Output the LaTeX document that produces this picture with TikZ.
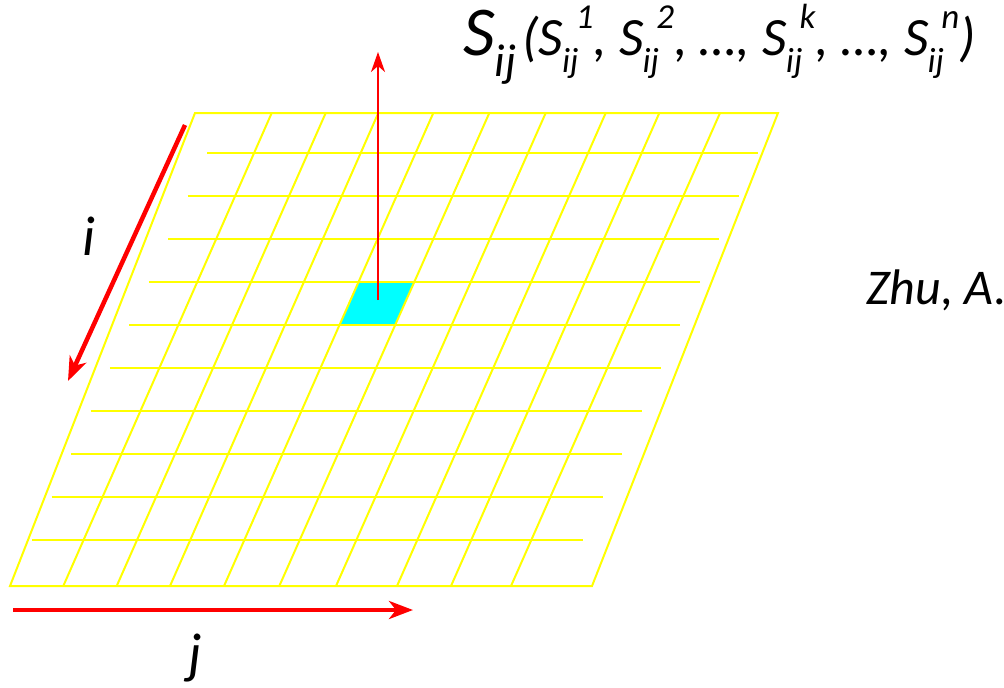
\documentclass[tikz,border=0pt]{standalone}
\usepackage{fontspec}
\setmainfont{Carlito}
\usetikzlibrary{arrows.meta,calc}
\definecolor{gridyellow}{RGB}{255,255,0}
\definecolor{cellcyan}{RGB}{0,255,255}
\definecolor{arrowred}{RGB}{255,0,0}
\newcommand{\mySij}[1]{S\kern-0.02em\raisebox{-0.32em}{\fontsize{35}{35}\selectfont ij}\kern-0.05em\raisebox{0.5em}{\fontsize{35}{35}\selectfont #1}}
\begin{document}
\begin{tikzpicture}[x=1pt,y=-1pt,
  gridline/.style={draw=gridyellow, line width=2pt},
  thickred/.style={draw=arrowred, line width=4.5pt, -{Stealth[length=24pt,width=18pt,inset=7pt]}},
  thinred/.style={draw=arrowred, line width=2pt, -{Stealth[length=20pt,width=14pt,inset=6pt]}},
  lbl/.style={inner sep=0pt, font=\itshape}]
\useasboundingbox (0,0) rectangle (1004,688);
\clip (0,0) rectangle (1004,688);
% corners
\coordinate (TL) at (195,113);
\coordinate (TR) at (778,113);
\coordinate (BL) at (10,586);
\coordinate (BR) at (592,586);
% column line ends
\foreach \n/\t/\b in {1/271.7/63.3, 2/325.7/116.7, 3/378.3/170, 4/433.3/224, 5/489.3/279.3, 6/545.7/336, 7/605.7/397, 8/659.3/451, 9/720/511}{
  \coordinate (t\n) at (\t,113);
  \coordinate (b\n) at (\b,586);
}
% selected cell
\fill[cellcyan] ($(t4)!0.3573!(b4)$) -- ($(t5)!0.3573!(b5)$) -- ($(t5)!0.4461!(b5)$) -- ($(t4)!0.4461!(b4)$) -- cycle;
% grid
\draw[gridline] (TL) -- (TR) -- (BR) -- (BL) -- cycle;
\foreach \n in {1,...,9}{ \draw[gridline] (t\n) -- (b\n); }
\foreach \k in {1,...,10}{
  \pgfmathsetmacro{\yy}{109.7+43*\k}
  \pgfmathsetmacro{\xs}{207-19.41*(\k-1)}
  \coordinate (hs\k) at (\xs,\yy);
  \coordinate (he\k) at (\xs+551,\yy);
  \draw[gridline] (hs\k) -- (he\k);
}
% arrows
\coordinate (cellc) at (378,300);
\coordinate (uptip) at (378,52);
\draw[thinred] (cellc) -- (uptip);
\coordinate (istart) at (185,125);
\coordinate (iend) at (68,381);
\draw[thickred] (istart) -- (iend);
\coordinate (jstart) at (13,610);
\coordinate (jend) at (413,610);
\draw[thickred] (jstart) -- (jend);
% labels
\node[lbl, anchor=base, font=\fontsize{56}{56}\selectfont\itshape] (ilabel) at (89,255) {i};
\node[lbl, anchor=base, font=\fontsize{56}{56}\selectfont\itshape] (jlabel) at (195,672) {j};
\node[lbl, anchor=base west, font=\fontsize{50}{50}\selectfont\itshape] (cite) at (866,304) {Zhu, A.X.};
\node[lbl, anchor=base west] (title) at (463,55) {{\fontsize{70}{70}\selectfont S\raisebox{-0.3em}{\fontsize{46}{46}\selectfont ij}}\kern6pt{\fontsize{54}{54}\selectfont (\mySij{1}, \mySij{2}, \ldots, \mySij{k}, \ldots, \mySij{n})}};
\end{tikzpicture}
\end{document}
